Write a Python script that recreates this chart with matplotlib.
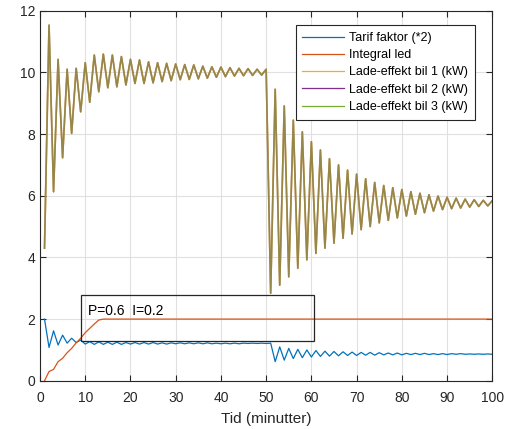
import matplotlib
matplotlib.use("Agg")
import matplotlib.pyplot as plt
from matplotlib.lines import Line2D
from matplotlib.patches import Rectangle

plt.rcParams['font.family'] = ['Liberation Sans', 'DejaVu Sans']
plt.rcParams['font.size'] = 10

# tid i minutter
tid = list(range(1, 101))

# Tarif faktor (*2)
tarif = [2.0, 1.08, 1.62, 1.16, 1.48, 1.22, 1.38, 1.24, 1.32, 1.19,
         1.27, 1.18, 1.26, 1.18, 1.25, 1.18, 1.25, 1.18, 1.24, 1.19,
         1.24, 1.19, 1.24, 1.19, 1.24, 1.19, 1.23, 1.19, 1.23, 1.20,
         1.23, 1.20, 1.23, 1.20, 1.23, 1.20, 1.23, 1.20, 1.22, 1.20,
         1.22, 1.20, 1.22, 1.20, 1.22, 1.21, 1.22, 1.21, 1.22, 1.21,
         1.22, 0.62, 1.10, 0.67, 1.05, 0.72, 1.02, 0.75, 1.00, 0.77,
         0.98, 0.79, 0.96, 0.80, 0.95, 0.81, 0.94, 0.82, 0.93, 0.82,
         0.92, 0.83, 0.92, 0.83, 0.91, 0.84, 0.90, 0.84, 0.90, 0.84,
         0.89, 0.85, 0.89, 0.85, 0.89, 0.85, 0.88, 0.85, 0.88, 0.85,
         0.88, 0.86, 0.88, 0.86, 0.87, 0.86, 0.87, 0.86, 0.87, 0.86]

# Integral led
integral = [0.0, 0.30, 0.37, 0.62, 0.73, 0.91, 1.05, 1.23, 1.38, 1.56,
            1.70, 1.84, 1.97] + [2.0] * 87

# Lade-effekt (kW), lest av figuren - de tre bilene ligger oppå hverandre
lade = [4.30, 11.53, 6.13, 10.42, 7.23, 10.10, 8.02, 10.13, 8.72, 10.31,
        9.03, 10.56, 9.37, 10.59, 9.50, 10.56, 9.53, 10.51, 9.59, 10.42,
        9.64, 10.40, 9.64, 10.34, 9.66, 10.31, 9.70, 10.29, 9.73, 10.27,
        9.76, 10.25, 9.77, 10.24, 9.79, 10.20, 9.81, 10.18, 9.84, 10.17,
        9.86, 10.15, 9.88, 10.13, 9.89, 10.12, 9.90, 10.10, 9.91, 10.10,
        2.84, 9.45, 3.10, 8.91, 3.37, 8.45, 3.65, 8.07, 3.92, 7.75,
        4.13, 7.48, 4.30, 7.20, 4.46, 7.00, 4.62, 6.83, 4.76, 6.70,
        4.90, 6.55, 5.00, 6.43, 5.12, 6.33, 5.20, 6.26, 5.28, 6.20,
        5.34, 6.13, 5.40, 6.08, 5.45, 6.03, 5.50, 5.99, 5.55, 5.95,
        5.58, 5.92, 5.60, 5.89, 5.63, 5.87, 5.65, 5.85, 5.67, 5.84]
bil1 = lade
bil2 = lade
bil3 = lade

labels = ["Tarif faktor (*2)", "Integral led", "Lade-effekt bil 1 (kW)",
          "Lade-effekt bil 2 (kW)", "Lade-effekt bil 3 (kW)"]
farger = ["#0072BD", "#D95319", "#EDB120", "#7E2F8E", "#77AC30"]
mork = (0.15, 0.15, 0.15)

fig = plt.figure(figsize=(5.14, 4.29), dpi=100)
ax = fig.add_axes([0.0778, 0.1124, 0.88, 0.8628])

ax.plot(tid, tarif, color=farger[0], lw=0.9)
ax.plot(tid, integral, color=farger[1], lw=0.9)
# bilene tegnes oppå hverandre, blandingsfargen blir oliven/brun
ax.plot(tid, bil1, color=farger[2], lw=1.2)
ax.plot(tid, bil2, color=farger[3], lw=1.2, alpha=0.55)
ax.plot(tid, bil3, color=farger[4], lw=1.2, alpha=0.45)

ax.set_xlim(0, 100)
ax.set_ylim(0, 12)
ax.set_xticks(range(0, 101, 10))
ax.set_yticks(range(0, 13, 2))
ax.grid(True, color=(0.88, 0.88, 0.88), lw=0.8)
ax.set_axisbelow(True)
ax.tick_params(direction="in", length=4, top=True, right=True,
               colors=mork, labelcolor=mork, labelsize=10, width=0.8)
ax.tick_params(axis="x", pad=7.5)
for s in ax.spines.values():
    s.set_color(mork)
    s.set_linewidth(0.8)
ax.set_xlabel("Tid (minutter)", color=mork, fontsize=11, labelpad=5)

handles = [Line2D([], [], color=c, lw=0.9) for c in farger]
leg = ax.legend(handles, labels, loc="upper right",
                bbox_to_anchor=(0.962, 0.961), borderaxespad=0,
                fancybox=False, framealpha=1, edgecolor=mork,
                handlelength=3.3, handletextpad=0.45, labelspacing=0.42,
                borderpad=0.55, fontsize=9)
leg.get_frame().set_linewidth(0.8)

# tekstboks med regulator-parametre
fig.patches.append(Rectangle((0.1576, 0.2058), 0.4534, 0.1066, transform=fig.transFigure,
                             fill=False, edgecolor=mork, lw=0.9))
fig.text(0.1718, 0.276, "P=0.6  I=0.2", fontsize=10, va="center", ha="left", color="black")

fig.savefig("out.png", dpi=100)
